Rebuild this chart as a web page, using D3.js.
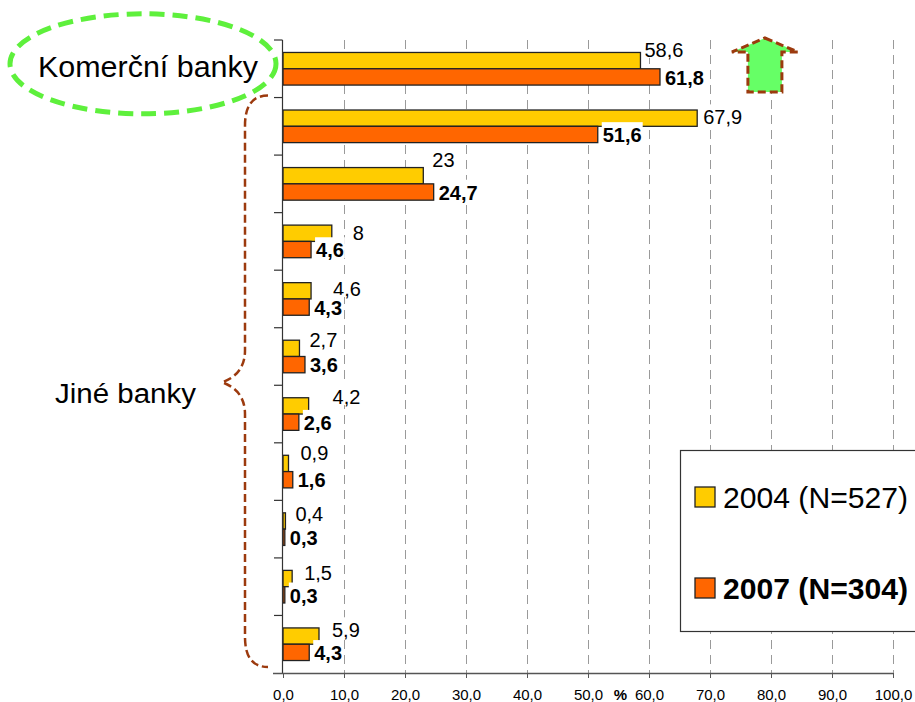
<!DOCTYPE html>
<html>
<head>
<meta charset="utf-8">
<script src="https://cdn.jsdelivr.net/npm/d3@7"></script>
<style>
body { margin: 0; background: #fff; }
svg { display: block; font-family: "Liberation Sans", Arial, sans-serif; }
</style>
</head>
<body>
<div id="chart"></div>
<script>
// data (rows top to bottom, no row labels shown)
var categories = ["r1", "r2", "r3", "r4", "r5", "r6", "r7", "r8", "r9", "r10", "r11"];
var values2004 = [58.6, 67.9, 23, 8, 4.6, 2.7, 4.2, 0.9, 0.4, 1.5, 5.9];
var values2007 = [61.8, 51.6, 24.7, 4.6, 4.3, 3.6, 2.6, 1.6, 0.3, 0.3, 4.3];
var xTicks = [0, 10, 20, 30, 40, 50, 60, 70, 80, 90, 100];
var seriesNames = ["2004 (N=527)", "2007 (N=304)"];
var groupLabels = ["Komerční banky", "Jiné banky"];

// hand-moved 2004 labels in the original (dx, dy from default spot)
var nudge2004 = [[4, -11], [6, -1], [9, -16], [21, 0], [22, -2], [10, -9], [24, -9], [12, -11], [10, -7], [12, -6], [13, -6]];

var width = 915, height = 702;
var margin = {top: 40, right: 22, bottom: 29, left: 283};
var colors = ["#FFCC00", "#FF6600"];

var svg = d3.select("#chart").append("svg")
	.attr("width", width)
	.attr("height", height);

var x = d3.scaleLinear().domain([0, 100]).range([margin.left, width - margin.right]);
var y = d3.scaleBand().domain(categories).range([margin.top, height - margin.bottom]);
var ySub = d3.scaleBand().domain(["2004", "2007"]).range([0, y.bandwidth()]).paddingOuter(0.765);

var fmt = function(v) { return String(v).replace(".", ","); };

// dashed grid
svg.append("g").selectAll("line")
	.data(xTicks.slice(1))
	.enter().append("line")
	.attr("x1", function(d) { return x(d) + 0.5; })
	.attr("x2", function(d) { return x(d) + 0.5; })
	.attr("y1", y.range()[0])
	.attr("y2", y.range()[1])
	.attr("stroke", "#9a9a9a")
	.attr("stroke-width", 1)
	.attr("stroke-dasharray", "9,6");

// bars
var rows = categories.map(function(c, i) {
	return {cat: c, v: [values2004[i], values2007[i]], i: i};
});

var bars = svg.append("g").selectAll("g")
	.data(rows)
	.enter().append("g")
	.attr("transform", function(d) { return "translate(0," + y(d.cat) + ")"; });

bars.selectAll("rect")
	.data(function(d) { return d.v.map(function(v, k) { return {v: v, k: k}; }); })
	.enter().append("rect")
	.attr("x", x(0))
	.attr("y", function(d) { return ySub(ySub.domain()[d.k]); })
	.attr("width", function(d) { return x(d.v) - x(0); })
	.attr("height", ySub.bandwidth())
	.attr("fill", function(d) { return colors[d.k]; })
	.attr("stroke", "#222")
	.attr("stroke-width", 1.3);

// value labels, each on a white box (like Excel label fill)
var lab04 = bars.append("g");
lab04.append("text")
	.attr("x", function(d) { return x(d.v[0]) + nudge2004[d.i][0]; })
	.attr("y", function(d) { return ySub("2004") + ySub.bandwidth() / 2 + nudge2004[d.i][1]; })
	.attr("dy", "0.36em")
	.attr("font-size", "20px")
	.text(function(d) { return fmt(d.v[0]); });

var lab07 = bars.append("g");
lab07.append("text")
	.attr("x", function(d) { return x(d.v[1]) + 5; })
	.attr("y", function(d) { return ySub("2007") + ySub.bandwidth() / 2 + 0.5; })
	.attr("dy", "0.36em")
	.attr("font-size", "20px")
	.attr("font-weight", "bold")
	.text(function(d) { return fmt(d.v[1]); });

[lab04, lab07].forEach(function(sel) {
	sel.each(function() {
		var g = d3.select(this), b = g.select("text").node().getBBox();
		g.insert("rect", "text")
			.attr("x", b.x - 1).attr("y", b.y - 2)
			.attr("width", b.width + 2).attr("height", b.height - 1)
			.attr("fill", "#fff");
	});
});

// y axis with ticks between rows
var yAxis = svg.append("g").attr("stroke", "#333").attr("stroke-width", 1.2);
yAxis.append("line")
	.attr("x1", x(0) - 0.5).attr("x2", x(0) - 0.5)
	.attr("y1", y.range()[0]).attr("y2", y.range()[1]);
yAxis.selectAll(".tk")
	.data(categories)
	.enter().append("line")
	.attr("x1", x(0) - 9).attr("x2", x(0) - 0.5)
	.attr("y1", function(d) { return y(d); })
	.attr("y2", function(d) { return y(d); });

// x axis
var xAxis = svg.append("g")
	.attr("transform", "translate(0," + y.range()[1] + ")")
	.call(d3.axisBottom(x).tickValues(xTicks).tickSize(5).tickSizeOuter(0).tickPadding(11)
		.tickFormat(function(d) { return d3.format(".1f")(d).replace(".", ","); }));
xAxis.select(".domain").attr("stroke", "#555").attr("stroke-width", 1.5)
	.attr("d", "M" + (x(0) - 10) + ",0.5H" + x(100));
xAxis.selectAll(".tick line").attr("stroke", "#555");
xAxis.selectAll("text").attr("font-size", "15px").attr("font-family", "Liberation Sans, Arial, sans-serif").attr("fill", "#000");
svg.append("text")
	.attr("x", x(55.3))
	.attr("y", y.range()[1] + 27)
	.attr("text-anchor", "middle")
	.attr("font-size", "15px")
	.attr("font-weight", "bold")
	.text("%");

// legend
var legend = svg.append("g").attr("transform", "translate(680,450)");
legend.append("rect")
	.attr("x", 0.5).attr("y", 0.5)
	.attr("width", 260).attr("height", 181)
	.attr("fill", "#fff").attr("stroke", "#333").attr("stroke-width", 1.2);
var items = legend.selectAll(".item")
	.data(seriesNames)
	.enter().append("g")
	.attr("transform", function(d, i) { return "translate(15," + (37 + i * 91) + ")"; });
items.append("rect")
	.attr("width", 20).attr("height", 20)
	.attr("fill", function(d, i) { return colors[i]; })
	.attr("stroke", "#222").attr("stroke-width", 1.3);
items.append("text")
	.attr("x", 28).attr("y", 10).attr("dy", "0.36em")
	.attr("font-size", "30px")
	.attr("textLength", 185)
	.attr("lengthAdjust", "spacingAndGlyphs")
	.attr("font-weight", function(d, i) { return i ? "bold" : "normal"; })
	.text(function(d) { return d; });

// "Komerční banky" label with green dashed ellipse
var c0 = y(categories[0]) + y.bandwidth() / 2;
svg.append("ellipse")
	.attr("cx", 143).attr("cy", c0 - 5)
	.attr("rx", 133).attr("ry", 50)
	.attr("fill", "none")
	.attr("stroke", "#5EF03C").attr("stroke-width", 5)
	.attr("stroke-dasharray", "15,8");
svg.append("text")
	.attr("x", 38).attr("y", c0 + 8)
	.attr("font-size", "30px")
	.attr("textLength", 220)
	.attr("lengthAdjust", "spacingAndGlyphs")
	.text(groupLabels[0]);

// up arrow
var ax = x(79), at = y(categories[0]);
var arrowPts = [[ax, at - 2], [ax + 33, at + 12], [ax + 17, at + 12], [ax + 17, at + 52],
	[ax - 17, at + 52], [ax - 17, at + 12], [ax - 33, at + 12]];
svg.append("path")
	.attr("d", d3.line()(arrowPts) + "Z")
	.attr("fill", "#66FF66")
	.attr("stroke", "#9C3A0E").attr("stroke-width", 3)
	.attr("stroke-dasharray", "8,4");

// curly brace for the other banks
var yT = y(categories[1]) - 2, yB = y.range()[1] - 6, yM = (y(categories[1]) + y.range()[1]) / 2 - 3;
var xR = 268, xV = 245, xC = 222;
var brace = "M" + xR + "," + yT +
	"Q" + xV + "," + yT + " " + xV + "," + (yT + 30) +
	"L" + xV + "," + (yM - 32) +
	"Q" + xV + "," + (yM - 8) + " " + xC + "," + yM +
	"Q" + xV + "," + (yM + 8) + " " + xV + "," + (yM + 32) +
	"L" + xV + "," + (yB - 30) +
	"Q" + xV + "," + yB + " " + xR + "," + yB;
svg.append("path")
	.attr("d", brace)
	.attr("fill", "none")
	.attr("stroke", "#9C3A0E").attr("stroke-width", 2.5)
	.attr("stroke-dasharray", "8,4");
svg.append("text")
	.attr("x", 55).attr("y", yM + 21)
	.attr("font-size", "27px")
	.attr("textLength", 141)
	.attr("lengthAdjust", "spacingAndGlyphs")
	.text(groupLabels[1]);
</script>
</body>
</html>
